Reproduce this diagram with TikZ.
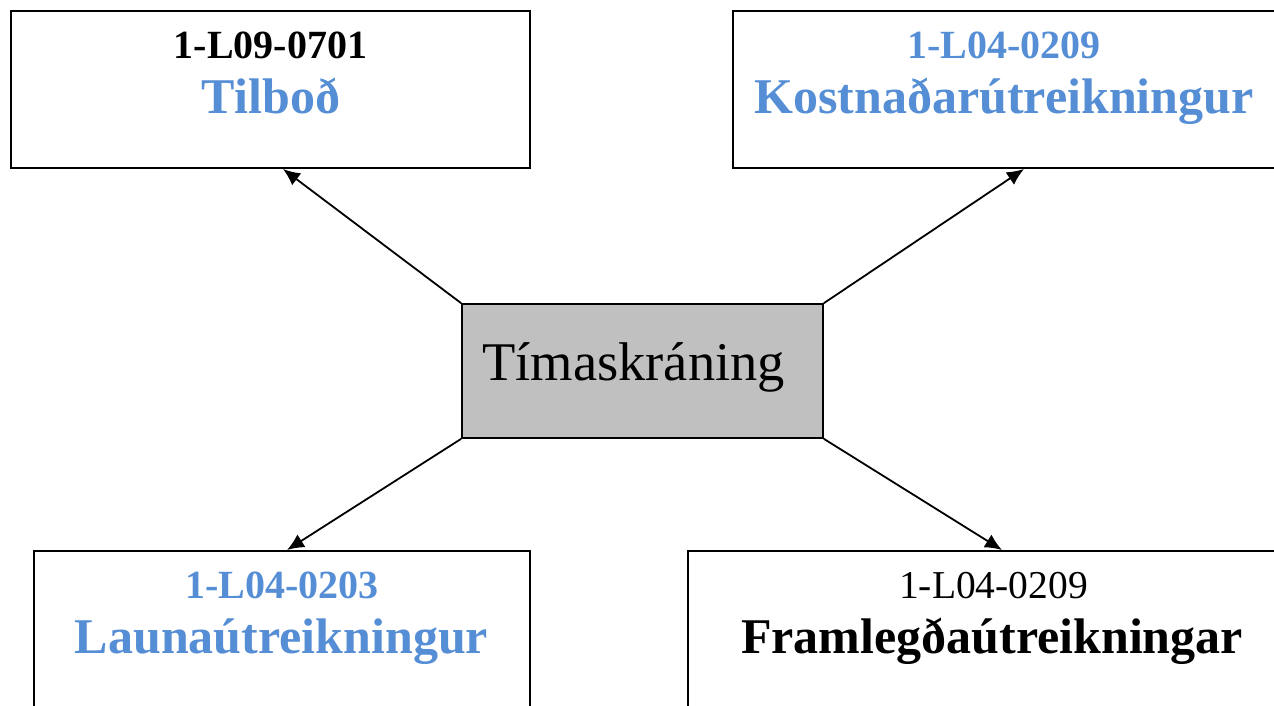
\documentclass[tikz,border=0pt]{standalone}
\usepackage{fontspec}
\setmainfont{Liberation Serif}
\usetikzlibrary{arrows.meta}
\definecolor{idblue}{RGB}{85,142,213}
\definecolor{boxgray}{RGB}{192,192,192}
\tikzset{
  boxnode/.style={draw=black, line width=2pt, rectangle, inner sep=0pt, minimum height=157pt},
  centerbox/.style={draw=black, fill=boxgray, line width=1.6pt, rectangle, inner sep=0pt, minimum width=361pt, minimum height=134pt},
  idtext/.style={inner sep=0pt, anchor=base, font=\fontsize{40}{48}\selectfont\bfseries},
  idplain/.style={inner sep=0pt, anchor=base, font=\fontsize{39.5}{48}\selectfont},
  nametext/.style={inner sep=0pt, anchor=base, font=\fontsize{50}{60}\selectfont\bfseries},
  arr/.style={line width=1.8pt, -{Latex[length=17pt,width=15pt]}}
}
\begin{document}
\begin{tikzpicture}[x=1pt,y=-1pt]
\useasboundingbox (0,0) rectangle (1274,705);
\clip (0,0) rectangle (1274,705);
\fill[white] (0,0) rectangle (1274,705);
% boxes
\node[boxnode, minimum width=519pt] (tl) at (270.5,89.5) {};
\node[boxnode, minimum width=542pt] (tr) at (1004,89.5) {};
\node[boxnode, minimum width=496pt] (bl) at (282,629.5) {};
\node[boxnode, minimum width=608pt] (br) at (992,629.5) {};
\node[centerbox] (c) at (642.5,371) {};
% texts
\node[idtext] (tlid) at (270.5,58) {1-L09-0701};
\node[nametext, text=idblue] (tlname) at (271,113) {Tilboð};
\node[idtext, text=idblue] (trid) at (1004,58) {1-L04-0209};
\node[nametext, text=idblue] (trname) at (1004,113) {Kostnaðarútreikningur};
\node[idtext, text=idblue] (blid) at (282,598) {1-L04-0203};
\node[nametext, text=idblue] (blname) at (281.5,653) {Launaútreikningur};
\node[idplain] (brid) at (993.5,598) {1-L04-0209};
\node[nametext] (brname) at (992,653) {Framlegðaútreikningar};
\node[inner sep=0pt, anchor=base west, font=\fontsize{54.5}{60}\selectfont] (ctext) at (482,380) {Tímaskráning};
% arrows
\draw[arr] (c.north west) -- ([xshift=12.5pt]tl.south);
\draw[arr] (c.north east) -- ([xshift=20pt]tr.south);
\draw[arr] (c.south west) -- ([xshift=5pt]bl.north);
\draw[arr] (c.south east) -- ([xshift=10pt]br.north);
\end{tikzpicture}
\end{document}
